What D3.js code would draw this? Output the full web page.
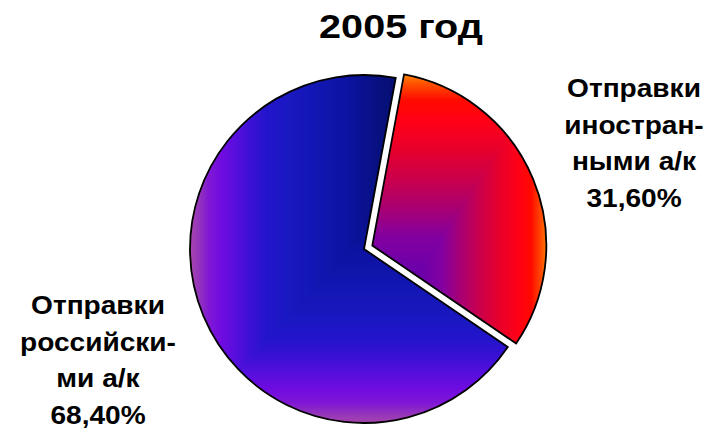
<!DOCTYPE html>
<html>
<head>
<meta charset="utf-8">
<script src="https://cdn.jsdelivr.net/npm/d3@7/dist/d3.min.js"></script>
<style>
  html, body { margin: 0; padding: 0; background: #fff; }
  svg { display: block; }
  text { font-family: "Liberation Sans", Arial, sans-serif; font-weight: bold; fill: #000; }
</style>
</head>
<body>
<svg id="chart" width="713" height="430"></svg>
<script>
// Shares of shipments in 2005
const title = "2005 год";
const categories = ["иностранные", "российские"];
const values = [31.6, 68.4];
const labelLines = [
  ["Отправки", "иностран-", "ными а/к"],
  ["Отправки", "российски-", "ми а/к"]
];
const valueLabels = ["31,60%", "68,40%"];

// Colour ramps for each slice, from the gradient corner outward
const rampStops = [
  [0.2, 0.3, 0.4, 0.5, 0.6, 0.72, 0.82, 0.9, 0.96, 1.0],
  [0.3, 0.4, 0.5, 0.6, 0.7, 0.76, 0.81, 0.86, 0.9, 0.94, 0.97, 1.0]
];
const rampColors = [
  ["#6000b0", "#7000a8", "#8400a0", "#a80074", "#c80050", "#e8002c", "#ff0018", "#ff0a00", "#ff5000", "#ff9000"],
  ["#050a68", "#07107c", "#0c12a0", "#1216b2", "#1a18c2", "#2414cc", "#3c10d6", "#5a0ede", "#700ce0", "#8018d4", "#9434bc", "#a848a8"]
];
// corner the gradient starts from: [fx, fy] in bbox fractions
const rampCorner = [[0, 1], [1, 0]];

const svg = d3.select("#chart");
const cx = 364, cy = 249, R = 174, explode = 9;
const start = 10.5 * Math.PI / 180;

const pie = d3.pie().sort(null).value(d => d).startAngle(start).endAngle(start + 2 * Math.PI);
const arc = d3.arc().innerRadius(0).outerRadius(R);
const arcs = pie(values);

const defs = svg.append("defs");

const root = svg.append("g").attr("transform", `translate(${cx},${cy})`);

arcs.forEach((a, i) => {
  const mid = (a.startAngle + a.endAngle) / 2;
  const off = i === 0 ? explode : 0;
  const dx = Math.sin(mid) * off, dy = -Math.cos(mid) * off;
  const g = root.append("g").attr("transform", `translate(${dx},${dy})`);
  const d = arc(a);

  defs.append("clipPath").attr("id", "clip" + i).append("path").attr("d", d);

  // measure slice bounds to lay the gradient over it
  const probe = g.append("path").attr("d", d).attr("fill", "none");
  const bb = probe.node().getBBox();
  probe.remove();

  const w = Math.ceil(bb.width) + 2, h = Math.ceil(bb.height) + 2;
  const x0 = Math.floor(bb.x) - 1, y0 = Math.floor(bb.y) - 1;
  const color = d3.scaleLinear().domain(rampStops[i]).range(rampColors[i])
    .interpolate(d3.interpolateRgb).clamp(true);
  const [fx, fy] = rampCorner[i];
  const canvas = document.createElement("canvas");
  canvas.width = w; canvas.height = h;
  const ctx = canvas.getContext("2d");
  const img = ctx.createImageData(w, h);
  for (let py = 0; py < h; py++) {
    const ty = Math.abs(py / h - fy);
    for (let px = 0; px < w; px++) {
      const tx = Math.abs(px / w - fx);
      const c = d3.rgb(color(Math.max(tx, ty)));
      const k = (py * w + px) * 4;
      img.data[k] = c.r; img.data[k + 1] = c.g; img.data[k + 2] = c.b; img.data[k + 3] = 255;
    }
  }
  ctx.putImageData(img, 0, 0);

  g.append("image")
    .attr("href", canvas.toDataURL())
    .attr("x", x0).attr("y", y0).attr("width", w).attr("height", h)
    .attr("preserveAspectRatio", "none")
    .attr("clip-path", `url(#clip${i})`);

  g.append("path")
    .attr("d", d)
    .attr("fill", "none")
    .attr("stroke", "#000")
    .attr("stroke-width", 1.8)
    .attr("stroke-linejoin", "miter");
});

// Title
svg.append("text")
  .attr("transform", "translate(401,38) scale(1.2,1)")
  .attr("text-anchor", "middle")
  .style("font-size", "33px")
  .text(title);

// Slice labels
const labelPos = [
  { x: 634, y: 97 },
  { x: 98, y: 314 }
];
const lineH = 36.7;
labelPos.forEach((p, i) => {
  const lines = labelLines[i].concat([valueLabels[i]]);
  lines.forEach((t, j) => {
    svg.append("text")
      .attr("transform", `translate(${p.x},${p.y + j * lineH}) scale(1.08,1)`)
      .attr("text-anchor", "middle")
      .style("font-size", "26px")
      .text(t);
  });
});
</script>
</body>
</html>
